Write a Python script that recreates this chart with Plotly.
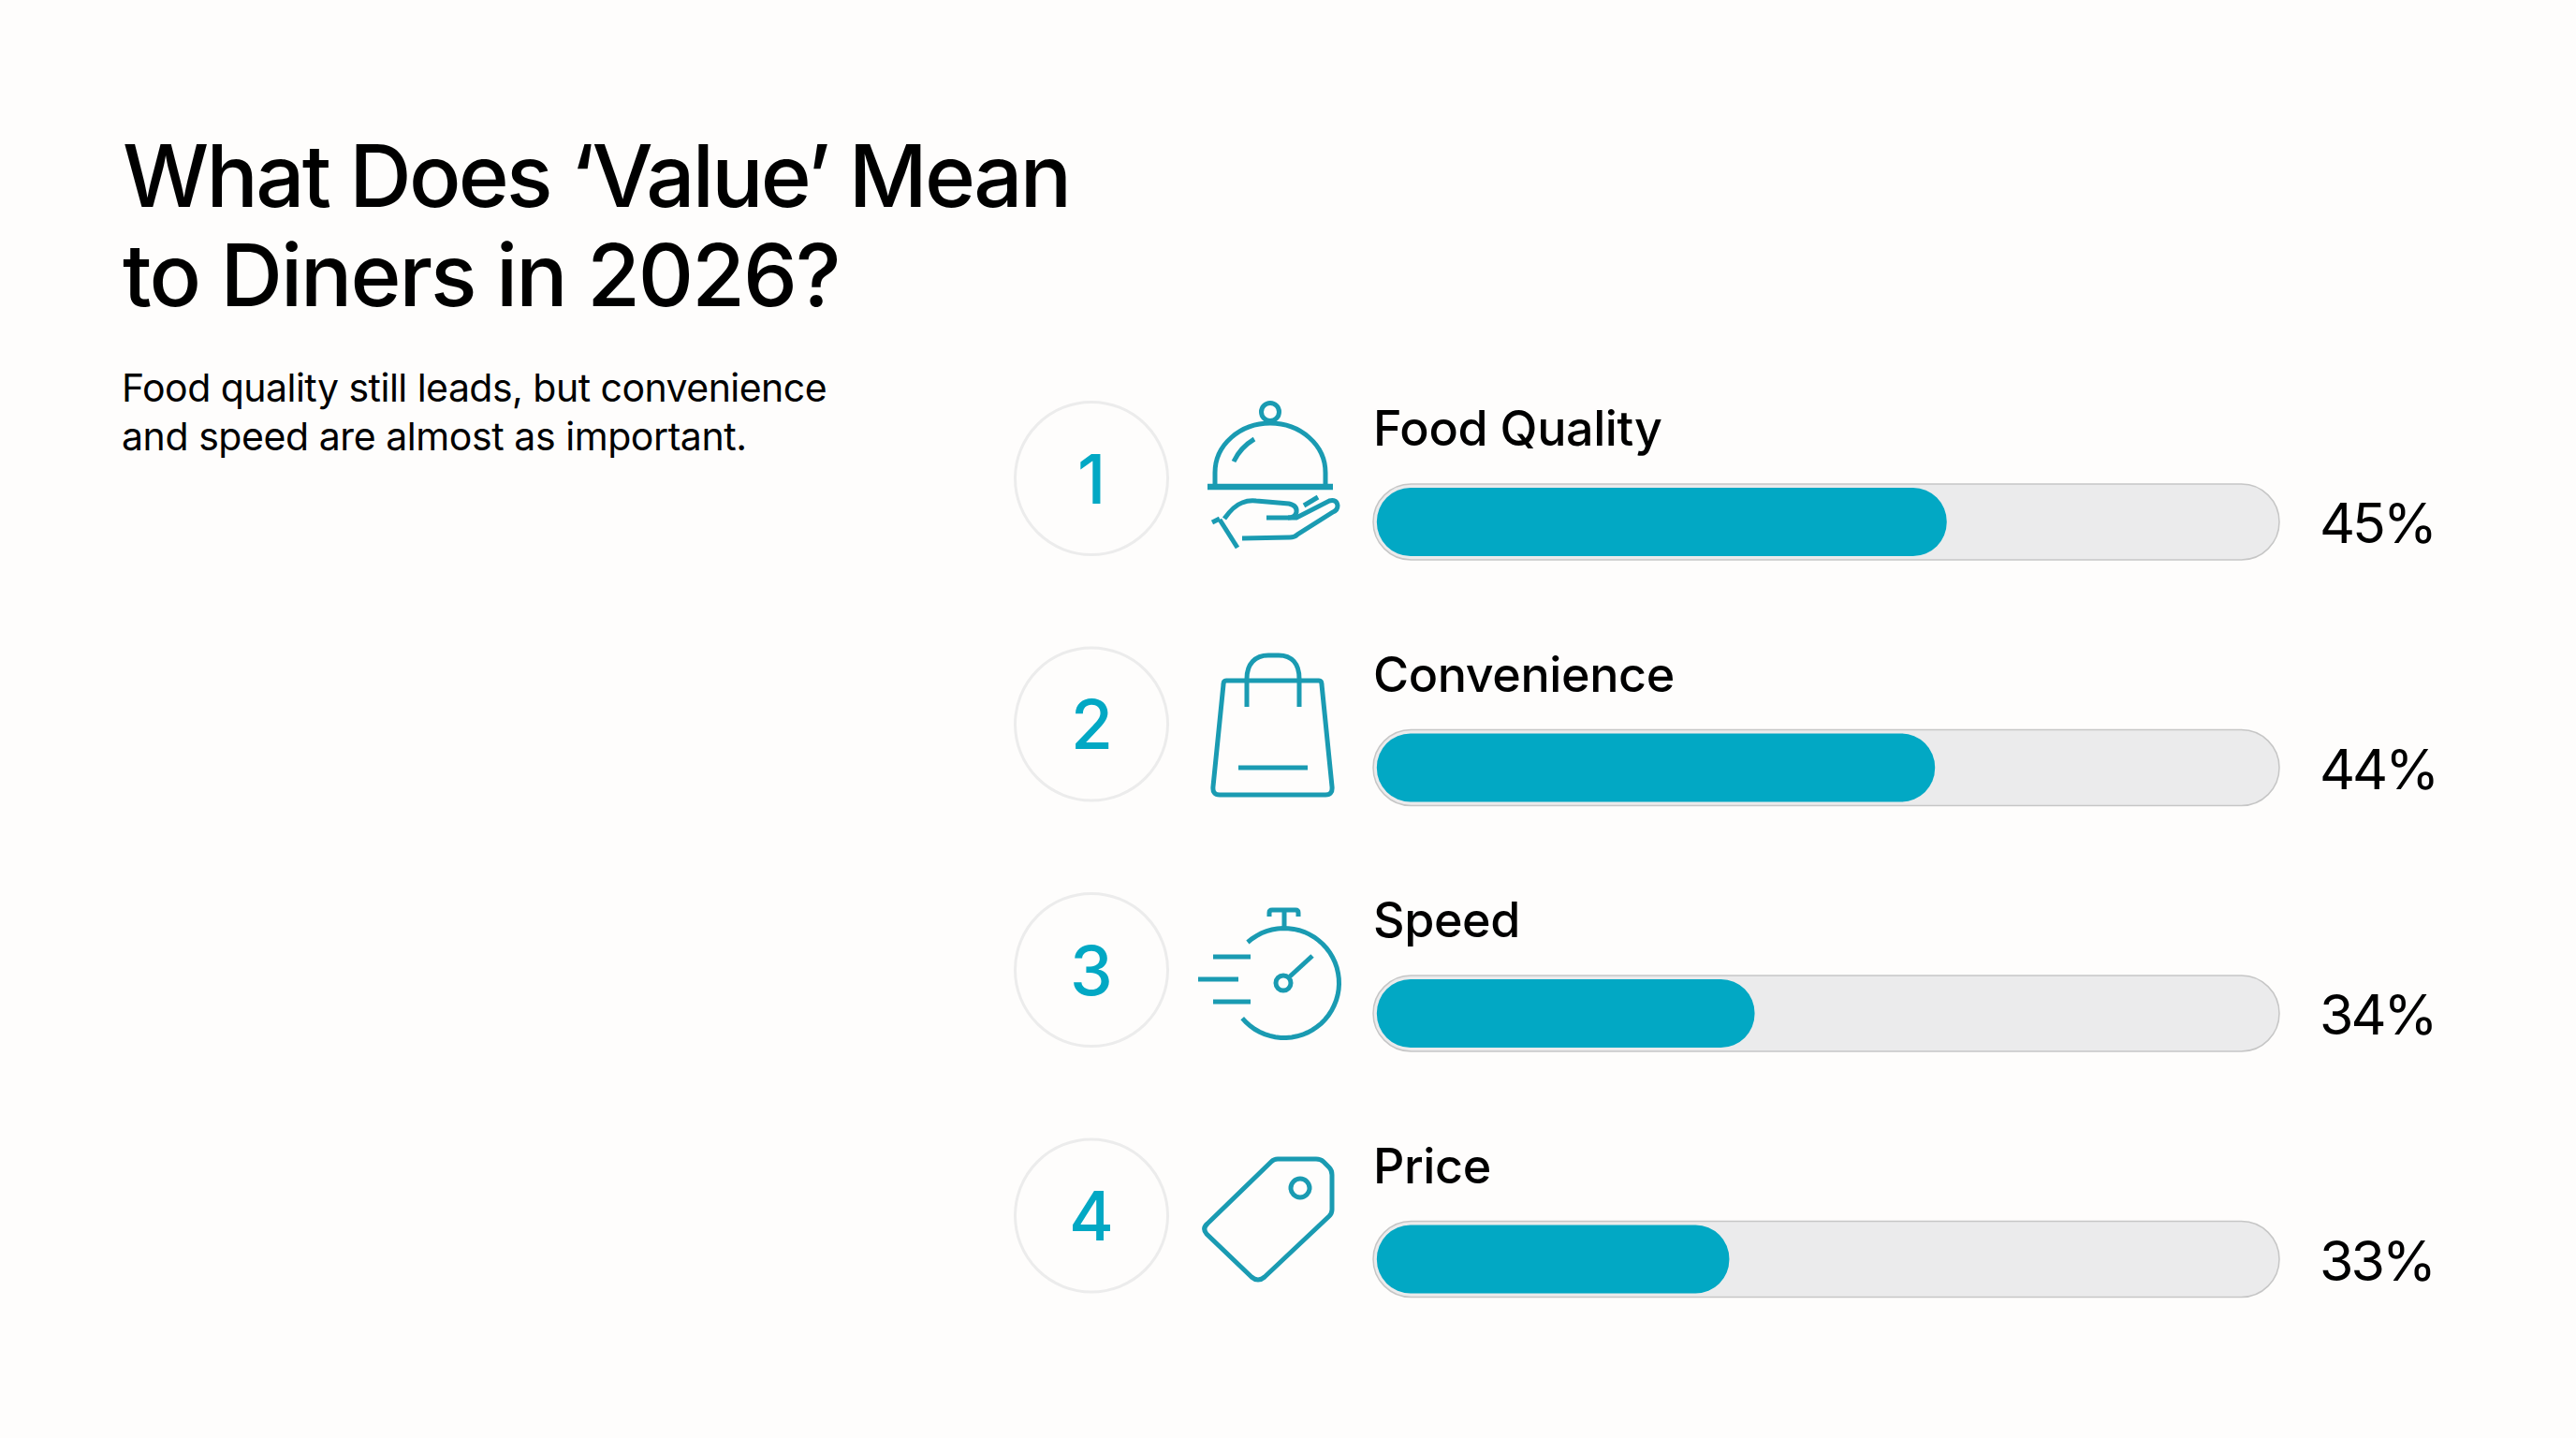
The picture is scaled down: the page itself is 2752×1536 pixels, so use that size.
import numpy as np
import plotly.graph_objects as go

# Data
CATEGORIES = ["Food Quality", "Convenience", "Speed", "Price"]
RANKS = ["1", "2", "3", "4"]
VALUE_LABELS = ["45%", "44%", "34%", "33%"]
# Drawn fill length as a share of the track. The drawn bars are not
# proportional to their printed labels, so these are measured separately.
FILL_SHARE = [63.3, 62.0, 42.1, 39.3]
TITLE_LINES = ["What Does ‘Value’ Mean", "to Diners in 2026?"]
SUBTITLE_LINES = ["Food quality still leads, but convenience", "and speed are almost as important."]

W, H = 2752, 1536
FONT = "Inter"
BG = "#FEFDFC"
TEAL = "#02A8C4"
ICON = "#1A9BB2"
TRACK = "#EBEBEC"
TRACK_LINE = "#C6C6C6"
RING = "#ECECEC"

ROW_PITCH = 262.5
TRACK_X0, TRACK_X1 = 1467, 2435
TRACK_MID_Y = 557.5
TRACK_H, FILL_H = 81, 73
FILL_START = 0.4


def arc(cx, cy, r, a0, a1, n=48):
    t = np.radians(np.linspace(a0, a1, n))
    pts = [f"{cx + r * np.cos(a):.1f},{cy + r * np.sin(a):.1f}" for a in t]
    return "M" + " L".join(pts)


def pill(x0, x1, ymid, h):
    r = h / 2
    k = r * 0.552
    y0, y1 = ymid - r, ymid + r
    return (
        f"M{x0 + r},{y0} L{x1 - r},{y0} "
        f"C{x1 - r + k},{y0} {x1},{ymid - k} {x1},{ymid} "
        f"C{x1},{ymid + k} {x1 - r + k},{y1} {x1 - r},{y1} "
        f"L{x0 + r},{y1} "
        f"C{x0 + r - k},{y1} {x0},{ymid + k} {x0},{ymid} "
        f"C{x0},{ymid - k} {x0 + r - k},{y0} {x0 + r},{y0} Z"
    )


# Icon outlines, in page pixels
ICON_PATHS = [
    # cloche and serving hand
    "M1298,518 L1298,505 C1298,475 1325,452 1357,452 C1389,452 1416,475 1416,505 L1416,518",
    "M1318,493 Q1325,478 1340,469",
    "M1308,554 Q1318,540 1327,537 Q1334,534 1342,535 L1377,538 Q1386,540 1385,547 Q1384,553 1376,553 L1353,553",
    "M1376,553 L1385,553 L1420,535 Q1428,533 1429,540 Q1429,545 1424,547 L1386,571 Q1383,574 1378,574 L1327,575",
    "M1303,555 L1322,585",
    "M1295,558 L1303,554",
    "M1393,540 L1408,531",
    # bag
    "M1310,727 L1409,727 Q1412,727 1412,731 L1423,840 Q1424,849 1416,849 L1303,849 Q1295,849 1296,840 L1307,731 Q1307,727 1310,727 Z",
    "M1332,755 L1332,725 C1332,709 1341,700 1355,700 L1366,700 C1380,700 1388,709 1388,725 L1388,755",
    "M1323,820 L1397,820",
    # stopwatch
    "M1356,979 L1356,975 Q1356,972 1359,972 L1384,972 Q1387,972 1387,975 L1387,979",
    "M1372,972 L1372,992",
    arc(1372, 1050, 58.5, -132, 140),
    "M1296,1022 L1336,1022",
    "M1280,1046 L1323,1046",
    "M1296,1070 L1336,1070",
    "M1378,1043 L1402,1021",
    # price tag
    "M1365,1238 L1406,1238 Q1411,1238 1414,1241 L1420,1247 Q1423,1250 1423,1255 L1423,1292 Q1423,1296 1420,1299 "
    "L1351,1364 Q1344,1370 1337,1364 L1289,1318 Q1284,1312 1290,1307 L1358,1241 Q1361,1238 1365,1238 Z",
]
ICON_CIRCLES = [(1357, 440, 9.5), (1371, 1050, 8), (1389, 1269, 10)]

fig = go.Figure()

y_pos = list(range(len(CATEGORIES)))

fig.add_trace(go.Bar(
    y=y_pos, x=[v - FILL_START for v in FILL_SHARE], base=FILL_START,
    orientation="h", width=FILL_H / ROW_PITCH, hoverinfo="skip", xaxis="x2", yaxis="y2",
    marker=dict(color=TEAL, cornerradius="50%", line=dict(width=0)),
))

shapes = []
anns = []


def text(x, y, s, size, color="#000000", xanchor="left", weight=400):
    anns.append(dict(
        xref="x", yref="y", x=x, y=y, text=s, showarrow=False,
        xanchor=xanchor, align=xanchor, yanchor="middle",
        font=dict(family=FONT, size=size, color=color, weight=weight),
    ))


for i, (name, rank, label) in enumerate(zip(CATEGORIES, RANKS, VALUE_LABELS)):
    mid = TRACK_MID_Y + i * ROW_PITCH
    cy = mid - 46.5
    shapes.append(dict(
        type="path", xref="x", yref="y", layer="below",
        path=pill(TRACK_X0, TRACK_X1, mid, TRACK_H),
        fillcolor=TRACK, line=dict(color=TRACK_LINE, width=1.5),
    ))
    shapes.append(dict(
        type="circle", xref="x", yref="y", layer="below",
        x0=1084.5, x1=1247.5, y0=cy - 81.5, y1=cy + 81.5,
        fillcolor="rgba(0,0,0,0)", line=dict(color=RING, width=3),
    ))
    text(1166, cy, rank, 73, TEAL, "center", weight=500)
    text(1465, mid - 100, name, 52, weight=500)
    text(2476, mid + 1, label, 59)

for p in ICON_PATHS:
    shapes.append(dict(
        type="path", xref="x", yref="y", path=p,
        line=dict(color=ICON, width=5),
    ))
shapes.append(dict(
    type="path", xref="x", yref="y", path="M1290,520 L1424,520",
    line=dict(color=ICON, width=6.5),
))
for cx, cy, r in ICON_CIRCLES:
    shapes.append(dict(
        type="circle", xref="x", yref="y",
        x0=cx - r, x1=cx + r, y0=cy - r, y1=cy + r,
        line=dict(color=ICON, width=5),
    ))

text(129, 187, TITLE_LINES[0], 92, weight=500)
text(129, 293, TITLE_LINES[1], 92, weight=500)
text(128, 414, SUBTITLE_LINES[0], 41)
text(128, 466, SUBTITLE_LINES[1], 41)

top = TRACK_MID_Y - ROW_PITCH / 2
bottom = TRACK_MID_Y + 3 * ROW_PITCH + ROW_PITCH / 2

fig.update_layout(
    width=W, height=H,
    margin=dict(l=0, r=0, t=0, b=0),
    paper_bgcolor=BG, plot_bgcolor="rgba(0,0,0,0)",
    barmode="overlay", showlegend=False,
    xaxis=dict(domain=[0, 1], range=[0, W], visible=False, fixedrange=True),
    yaxis=dict(domain=[0, 1], range=[H, 0], visible=False, fixedrange=True),
    xaxis2=dict(domain=[TRACK_X0 / W, TRACK_X1 / W], range=[0, 100], visible=False, anchor="y2", fixedrange=True),
    yaxis2=dict(domain=[1 - bottom / H, 1 - top / H], range=[3.5, -0.5], visible=False, anchor="x2", fixedrange=True),
    shapes=shapes, annotations=anns,
)

# plotly has no letter-spacing option; the reference type is set tighter than plain Inter
TRACKING = {TITLE_LINES[0]: -2.7, TITLE_LINES[1]: -2.0, SUBTITLE_LINES[0]: -0.53, SUBTITLE_LINES[1]: -0.43}
TRACKING.update({c: -0.4 for c in CATEGORIES})
TRACKING.update({v: -3.0 for v in VALUE_LABELS})
js_pairs = ",".join(f'"{k}":{v}' for k, v in TRACKING.items())
post = (
    "document.body.style.margin='0';document.body.style.overflow='hidden';"
    "var tr={" + js_pairs + "};"
    "document.querySelectorAll('.annotation-text').forEach(function(t){"
    "var s=tr[t.textContent];if(s){t.style.letterSpacing=s+'px';}});"
)
fig.write_html("out.html", post_script=post, config={"displayModeBar": False})
